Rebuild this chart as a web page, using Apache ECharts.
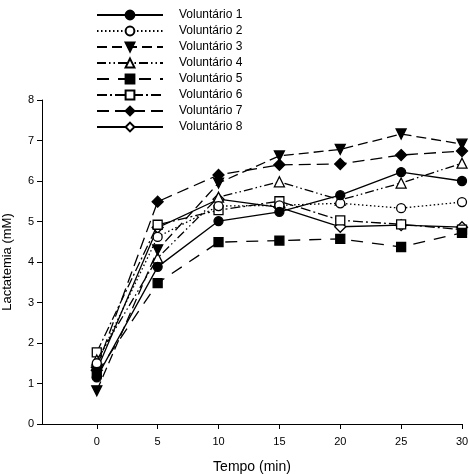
<!DOCTYPE html>
<html>
<head>
<meta charset="utf-8">
<script src="https://cdn.jsdelivr.net/npm/echarts@6/dist/echarts.min.js"></script>
<style>html,body{margin:0;padding:0;background:#fff}#c{width:469px;height:474px}</style>
</head>
<body>
<div id="c"></div>
<script>
const times = [0, 5, 10, 15, 20, 25, 30];
const names = ['Voluntário 1','Voluntário 2','Voluntário 3','Voluntário 4','Voluntário 5','Voluntário 6','Voluntário 7','Voluntário 8'];
const v1 = [1.15, 3.88, 5.01, 5.24, 5.65, 6.22, 6.00];
const v2 = [1.50, 4.62, 5.38, 5.40, 5.45, 5.33, 5.48];
const v3 = [0.82, 4.30, 5.95, 6.62, 6.78, 7.16, 6.91];
const v4 = [1.58, 4.10, 5.60, 5.98, 5.53, 5.95, 6.44];
const v5 = [1.25, 3.48, 4.49, 4.53, 4.57, 4.37, 4.72];
const v6 = [1.77, 4.92, 5.28, 5.50, 5.03, 4.93, 4.80];
const v7 = [1.40, 5.49, 6.15, 6.40, 6.42, 6.64, 6.74];
const v8 = [1.33, 4.85, 5.55, 5.35, 4.87, 4.91, 4.86];
const xTicks = [0, 5, 10, 15, 20, 25, 30];
const values = [v1, v2, v3, v4, v5, v6, v7, v8];

const styles = [
  {symbol:'circle', fill:'#000', type:'solid', rot:0, size:9},
  {symbol:'circle', fill:'#fff', type:[1.5,2.5], rot:0, size:9},
  {symbol:'triangle', fill:'#000', type:[10,5], rot:180, size:10},
  {symbol:'triangle', fill:'#fff', type:[9,3,1.5,3,1.5,3], rot:0, size:10},
  {symbol:'rect', fill:'#000', type:[12,9], rot:0, size:9},
  {symbol:'rect', fill:'#fff', type:[10,3,2,3], rot:0, size:9},
  {symbol:'diamond', fill:'#000', type:[12,6], rot:0, size:11},
  {symbol:'diamond', fill:'#fff', type:'solid', rot:0, size:11}
];

const series = values.map((vals, i) => ({
  name: names[i],
  type: 'line',
  data: vals.map((v, j) => [times[j], v]),
  symbol: styles[i].symbol,
  symbolSize: styles[i].size,
  symbolRotate: styles[i].rot,
  showAllSymbol: true,
  z: 10 - i,
  lineStyle: {color:'#000', width:1.3, type: styles[i].type},
  itemStyle: {color: styles[i].fill, borderColor:'#000', borderWidth:1.3, opacity:1},
  emphasis: {disabled:true},
  animation: false
}));

const chart = echarts.init(document.getElementById('c'));
chart.setOption({
  animation: false,
  backgroundColor: '#fff',
  textStyle: {fontFamily: 'Liberation Sans, Arial, sans-serif'},
  legend: {
    orient: 'vertical',
    left: 91,
    top: 4,
    itemWidth: 66,
    itemHeight: 11,
    itemGap: 4,
    data: names,
    textStyle: {color:'#000', fontSize: 12, padding:[0,0,0,11], fontFamily:'Liberation Sans, Arial, sans-serif'},
    selectedMode: false
  },
  grid: {left: 42, right: 7, top: 100, bottom: 50, containLabel: false, outerBoundsMode: 'none'},
  xAxis: {
    type: 'value',
    min: -4.5,
    max: 30,
    name: 'Tempo (min)',
    nameLocation: 'middle',
    nameGap: 36,
    nameTextStyle: {color:'#000', fontSize: 14},
    axisLine: {onZero:false, lineStyle:{color:'#000', width:1}},
    axisTick: {show:true, length:5, customValues: xTicks, lineStyle:{color:'#000'}},
    axisLabel: {color:'#000', fontSize: 11, margin: 12, customValues: xTicks, formatter: v => String(v)},
    splitLine: {show:false}
  },
  yAxis: {
    type: 'value',
    min: 0,
    max: 8,
    interval: 1,
    name: 'Lactatemia (mM)',
    nameLocation: 'middle',
    nameGap: 28,
    nameTextStyle: {color:'#000', fontSize: 13},
    axisLine: {show:true, onZero:false, lineStyle:{color:'#000', width:1}},
    axisTick: {show:true, length:5, lineStyle:{color:'#000'}},
    axisLabel: {color:'#000', fontSize: 11, margin: 8},
    splitLine: {show:false}
  },
  series: series
});
</script>
</body>
</html>
